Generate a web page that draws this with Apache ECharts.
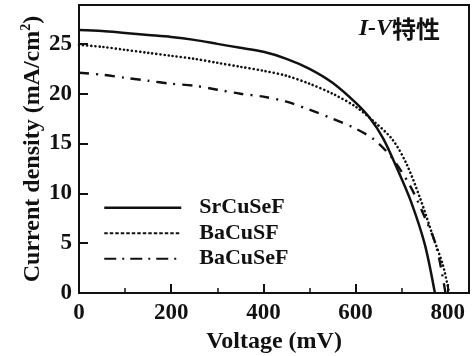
<!DOCTYPE html>
<html><head><meta charset="utf-8">
<script src="https://cdn.jsdelivr.net/npm/echarts@6/dist/echarts.min.js"></script>
<style>html,body{margin:0;padding:0;background:#fff}#c{width:473px;height:356px}</style>
</head><body><div id="c"></div>
<script>
const seriesNames = ['SrCuSeF', 'BaCuSF', 'BaCuSeF'];
const vSr = [0,50,100,150,200,250,300,350,400,450,500,550,600,630,660,690,720,750,772];
const jSr = [26.4,26.3,26.1,25.9,25.7,25.4,25.0,24.6,24.2,23.5,22.5,21.1,19.1,17.6,15.5,12.5,9.2,4.9,0];
const vBaS = [0,50,100,150,200,250,300,350,400,450,500,550,600,640,680,710,740,770,790,803];
const jBaS = [24.9,24.7,24.4,24.1,23.8,23.5,23.1,22.7,22.3,21.8,21.0,20.0,18.7,17.2,15.4,13.0,9.5,5.4,2.7,0];
const vBaSe = [0,50,100,150,200,250,300,350,400,450,500,550,600,640,680,720,750,775,795];
const jBaSe = [22.1,21.9,21.6,21.3,21.0,20.8,20.4,20.0,19.7,19.2,18.4,17.5,16.5,15.4,13.5,10.6,7.6,4.7,0];
const xTicks = [0,200,400,600,800];
const yTicks = [0,5,10,15,20,25];

const pair = (v, j) => v.map((x, i) => [x, j[i]]);
const serif = 'Liberation Serif, Times New Roman, serif';
const chart = echarts.init(document.getElementById('c'));
chart.setOption({
  animation: false,
  backgroundColor: '#fff',
  title: {
    text: '{i|I-V}{c|特性}',
    right: 28, top: 12,
    textStyle: {
      rich: {
        i: {fontFamily: serif, fontStyle: 'italic', fontWeight: 'bold', fontSize: 24, color: '#111'},
        c: {fontFamily: 'Noto Sans CJK SC', fontWeight: 'bold', fontSize: 24, color: '#111'}
      }
    }
  },
  grid: {left: 79, right: 4, top: 5, bottom: 63, show: true, borderColor: '#111', borderWidth: 2,
    containLabel: false, outerBoundsMode: 'none'},
  legend: {
    orient: 'vertical', left: 103, top: 195, padding: 0, itemWidth: 77, itemHeight: 14, itemGap: 0,
    itemStyle: {opacity: 0},
    textStyle: {fontFamily: serif, fontWeight: 'bold', fontSize: 22, color: '#111', lineHeight: 25.5, padding: [0, 0, 0, 13]},
    data: [
      {name: seriesNames[0], lineStyle: {width: 2.5, type: 'solid'}},
      {name: seriesNames[1], lineStyle: {width: 2, type: [3.5, 2], cap: 'butt'}},
      {name: seriesNames[2], lineStyle: {width: 2.2, type: [12, 6, 2, 6], cap: 'butt'}}
    ]
  },
  xAxis: {
    type: 'value', min: 0, max: 846, interval: 200,
    name: 'Voltage (mV)', nameLocation: 'middle', nameGap: 37, nameMoveOverlap: false,
    nameTextStyle: {fontFamily: serif, fontWeight: 'bold', fontSize: 24, color: '#111'},
    axisLine: {lineStyle: {color: '#111', width: 2}},
    axisTick: {inside: true, length: 9, lineStyle: {width: 2, color: '#111'}},
    minorTick: {show: true, splitNumber: 2, length: 5, lineStyle: {width: 1.5, color: '#111'}},
    splitLine: {show: false},
    axisLabel: {fontFamily: serif, fontWeight: 'bold', fontSize: 23, color: '#111', margin: 9,
      formatter: v => xTicks.includes(v) ? String(v) : ''}
  },
  yAxis: {
    type: 'value', min: 0, max: 28.9, interval: 5,
    name: 'Current density (mA/cm{s|2})', nameLocation: 'middle', nameGap: 32, nameMoveOverlap: false,
    nameTextStyle: {fontFamily: serif, fontWeight: 'bold', fontSize: 24, color: '#111',
      rich: {s: {fontFamily: serif, fontWeight: 'bold', fontSize: 14, color: '#111', verticalAlign: 'bottom', padding: [0, 0, 14, 0]}}},
    axisLine: {lineStyle: {color: '#111', width: 2}},
    axisTick: {inside: true, length: 9, lineStyle: {width: 2, color: '#111'}},
    splitLine: {show: false},
    axisLabel: {fontFamily: serif, fontWeight: 'bold', fontSize: 23, color: '#111', margin: 7,
      formatter: v => yTicks.includes(v) ? String(v) : ''}
  },
  series: [
    {name: seriesNames[0], type: 'line', data: pair(vSr, jSr), smooth: 0.3, symbol: 'none',
      lineStyle: {color: '#111', width: 2.5}, itemStyle: {color: '#111'}},
    {name: seriesNames[1], type: 'line', data: pair(vBaS, jBaS), smooth: 0.3, symbol: 'none',
      lineStyle: {color: '#111', width: 2.6, type: [0.1, 4], cap: 'round'}, itemStyle: {color: '#111'}},
    {name: seriesNames[2], type: 'line', data: pair(vBaSe, jBaSe), smooth: 0.3, symbol: 'none',
      lineStyle: {color: '#111', width: 2.4, type: [10, 7, 2, 7]}, itemStyle: {color: '#111'}}
  ]
});
</script></body></html>
